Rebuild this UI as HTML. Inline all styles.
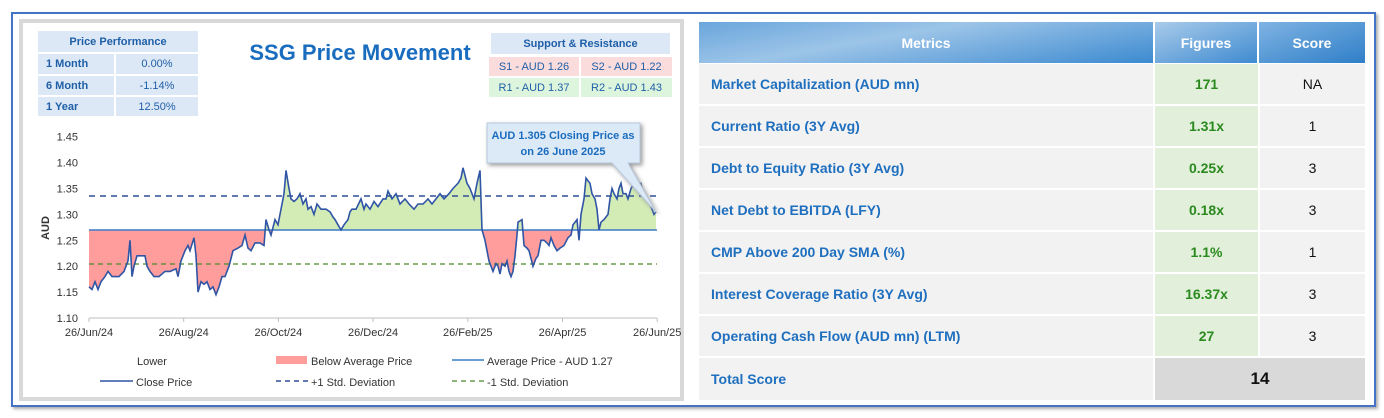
<!DOCTYPE html>
<html><head><meta charset="utf-8"><style>
*{margin:0;padding:0;box-sizing:border-box}
body{width:1384px;height:418px;background:#fff;font-family:"Liberation Sans",Calibri,sans-serif;position:relative;overflow:hidden}
.abs{position:absolute}
.cell{position:absolute;display:flex;align-items:center;font-size:11px;font-weight:bold;color:#1f5fa8}
table{border-collapse:collapse}
</style></head><body>
<div class="abs" style="left:11px;top:12px;width:1365px;height:395px;border:2px solid #4472c4;box-shadow:2px 2px 3px #aaa"></div>
<div class="abs" style="left:19px;top:19px;width:665px;height:382px;border:4px solid #d9d9d9;background:#fff"></div>

<!-- price performance -->
<div class="cell" style="left:38px;top:31px;width:160px;height:21px;background:#dce8f5;justify-content:center">Price Performance</div>
<div class="cell" style="left:38px;top:54px;width:76px;height:20px;background:#dce8f5;padding-left:8px">1 Month</div>
<div class="cell" style="left:116px;top:54px;width:82px;height:20px;background:#dce8f5;justify-content:center;font-weight:normal">0.00%</div>
<div class="cell" style="left:38px;top:76px;width:76px;height:19px;background:#dce8f5;padding-left:8px">6 Month</div>
<div class="cell" style="left:116px;top:76px;width:82px;height:19px;background:#dce8f5;justify-content:center;font-weight:normal">-1.14%</div>
<div class="cell" style="left:38px;top:97px;width:76px;height:19px;background:#dce8f5;padding-left:8px">1 Year</div>
<div class="cell" style="left:116px;top:97px;width:82px;height:19px;background:#dce8f5;justify-content:center;font-weight:normal">12.50%</div>

<div class="abs" style="left:230px;top:40px;width:260px;text-align:center;font-size:22px;font-weight:bold;color:#1a6cbf">SSG Price Movement</div>

<div class="cell" style="left:491px;top:33px;width:179px;height:21px;background:#dce8f5;justify-content:center">Support &amp; Resistance</div>
<div class="cell" style="left:489px;top:57px;width:90px;height:19px;background:#fadcdc;justify-content:center;font-weight:normal">S1 - AUD 1.26</div>
<div class="cell" style="left:581px;top:57px;width:91px;height:19px;background:#fadcdc;justify-content:center;font-weight:normal">S2 - AUD 1.22</div>
<div class="cell" style="left:489px;top:78px;width:90px;height:19px;background:#ddf5dd;justify-content:center;font-weight:normal">R1 - AUD 1.37</div>
<div class="cell" style="left:581px;top:78px;width:91px;height:19px;background:#ddf5dd;justify-content:center;font-weight:normal">R2 - AUD 1.43</div>

<svg class="abs" style="left:0;top:0" width="690" height="418" id="ch">
<defs>
<clipPath id="ab"><rect x="0" y="0" width="690" height="230"/></clipPath>
<clipPath id="be"><rect x="0" y="230" width="690" height="200"/></clipPath>
</defs>
<g font-size="11" fill="#333" text-anchor="end" id="yl"></g>
<text x="0" y="0" transform="translate(49,228) rotate(-90)" text-anchor="middle" font-size="11" font-weight="bold" fill="#333">AUD</text>
<path id="fg" fill="#d3ebb5" clip-path="url(#ab)"/>
<path id="fr" fill="#ff9c9c" clip-path="url(#be)"/>
<line x1="89" x2="657" y1="318" y2="318" stroke="#bfbfbf"/>
<g id="xt" stroke="#bfbfbf"></g>
<g font-size="11" fill="#333" text-anchor="middle" id="xl"></g>
<line x1="89" x2="657" y1="230" y2="230" stroke="#3a7cc8" stroke-width="1.5"/>
<line x1="89" x2="657" y1="196" y2="196" stroke="#2f4f96" stroke-width="1.5" stroke-dasharray="6,5"/>
<line x1="89" x2="657" y1="264" y2="264" stroke="#4a8a2a" stroke-width="1.3" stroke-dasharray="5,4"/>
<path id="ln" fill="none" stroke="#2f55a4" stroke-width="1.6"/>
<path d="M497 123 H640 V163 H628 L656 212 L612 163 H487 V123 Z" fill="#dce9f6" stroke="#b8c9dc" style="filter:drop-shadow(2px 2px 2px #999)"/>
<text x="563" y="139" text-anchor="middle" font-size="11" font-weight="bold" fill="#1a6cbf">AUD 1.305 Closing Price as</text>
<text x="563" y="155" text-anchor="middle" font-size="11" font-weight="bold" fill="#1a6cbf">on 26 June 2025</text>
<g font-size="11" fill="#333">
<text x="137" y="365">Lower</text>
<rect x="276" y="356" width="31" height="8" fill="#ff9c9c"/>
<text x="311" y="365">Below Average Price</text>
<line x1="452" x2="484" y1="360" y2="360" stroke="#3a7cc8" stroke-width="1.5"/>
<text x="487" y="365">Average Price - AUD 1.27</text>
<line x1="100" x2="133" y1="381" y2="381" stroke="#2f55a4" stroke-width="1.6"/>
<text x="136" y="386">Close Price</text>
<line x1="276" x2="308" y1="381" y2="381" stroke="#2f4f96" stroke-width="1.5" stroke-dasharray="5,4"/>
<text x="311" y="386">+1 Std. Deviation</text>
<line x1="452" x2="484" y1="381" y2="381" stroke="#4a8a2a" stroke-width="1.3" stroke-dasharray="5,4"/>
<text x="487" y="386">-1 Std. Deviation</text>
</g>
</svg>

<!-- right table -->
<div class="abs" style="left:699px;top:22px;width:666px;height:378px;background:#fff">
<table style="width:666px;font-size:14px;font-weight:bold">
<tr style="height:42px;color:#fff">
<td style="width:455px;text-align:center;background:linear-gradient(170deg,#6aa6dc 0%,#9cc4e8 40%,#3c8ad0 100%);border-right:2px solid #fff;border-bottom:2px solid #fff">Metrics</td>
<td style="width:104px;text-align:center;background:linear-gradient(160deg,#a9cbeb 0%,#3f8bd0 100%);border-right:2px solid #fff;border-bottom:2px solid #fff">Figures</td>
<td style="text-align:center;background:linear-gradient(160deg,#7fb3e3 0%,#2f7fc8 100%);border-bottom:2px solid #fff">Score</td></tr>
</table>
<div id="rows"></div>
</div>
<script>
var rows=[["Market Capitalization (AUD mn)","171","NA"],["Current Ratio (3Y Avg)","1.31x","1"],["Debt to Equity Ratio (3Y Avg)","0.25x","3"],["Net Debt to EBITDA (LFY)","0.18x","3"],["CMP Above 200 Day SMA (%)","1.1%","1"],["Interest Coverage Ratio (3Y Avg)","16.37x","3"],["Operating Cash Flow (AUD mn) (LTM)","27","3"]];
var h='';
rows.forEach(function(r,i){var t=42+i*42;
h+='<div class="cell" style="left:0;top:'+t+'px;width:454px;height:40px;background:#f2f2f2;padding-left:12px;font-size:14px;color:#1f6fbf">'+r[0]+'</div>';
h+='<div class="cell" style="left:456px;top:'+t+'px;width:103px;height:40px;background:#e2efda;justify-content:center;font-size:14px;color:#2a8a1e">'+r[1]+'</div>';
h+='<div class="cell" style="left:561px;top:'+t+'px;width:105px;height:40px;background:#f2f2f2;justify-content:center;font-size:14px;font-weight:normal;color:#111">'+r[2]+'</div>';});
h+='<div class="cell" style="left:0;top:336px;width:454px;height:42px;background:#f2f2f2;padding-left:12px;font-size:14px;color:#1f6fbf">Total Score</div>';
h+='<div class="cell" style="left:456px;top:336px;width:210px;height:42px;background:#d9d9d9;justify-content:center;font-size:17px;color:#111">14</div>';
document.getElementById('rows').innerHTML=h;

function Y(p){return 318-(p-1.10)/0.05*25.9;}
var yl='';for(var i=0;i<=7;i++){var p=1.10+i*0.05;yl+='<text x="78" y="'+(Y(p)+4)+'">'+p.toFixed(2)+'</text>';}
document.getElementById('yl').innerHTML=yl;
var xs=['26/Jun/24','26/Aug/24','26/Oct/24','26/Dec/24','26/Feb/25','26/Apr/25','26/Jun/25'];var xl='',xt='';
xs.forEach(function(s,i){var x=89+i*94.7;xl+='<text x="'+x+'" y="336">'+s+'</text>';xt+='<line x1="'+x+'" x2="'+x+'" y1="318" y2="322"/>';});
document.getElementById('xl').innerHTML=xl;document.getElementById('xt').innerHTML=xt;
var k=[[89,1.16],[92,1.155],[95,1.17],[98,1.155],[101,1.17],[105,1.18],[108,1.19],[112,1.18],[119,1.18],[124,1.19],[128,1.21],[130,1.25],[132,1.18],[134,1.2],[137,1.22],[145,1.22],[147,1.2],[150,1.19],[154,1.18],[159,1.18],[165,1.19],[170,1.19],[176,1.195],[178,1.18],[181,1.21],[185,1.23],[188,1.24],[190,1.23],[194,1.255],[196,1.22],[198,1.15],[201,1.17],[204,1.165],[207,1.17],[210,1.155],[213,1.16],[216,1.145],[219,1.16],[222,1.18],[225,1.18],[229,1.2],[233,1.23],[238,1.235],[242,1.24],[245,1.26],[248,1.235],[251,1.23],[255,1.245],[260,1.245],[264,1.24],[266,1.29],[269,1.27],[271,1.26],[273,1.275],[275,1.29],[278,1.28],[282,1.32],[284,1.34],[286,1.385],[289,1.35],[291,1.33],[294,1.325],[297,1.33],[300,1.34],[303,1.32],[306,1.33],[308,1.31],[311,1.315],[314,1.30],[317,1.32],[321,1.31],[326,1.31],[330,1.305],[333,1.295],[335,1.29],[338,1.28],[341,1.27],[344,1.28],[348,1.29],[350,1.305],[352,1.31],[356,1.31],[361,1.33],[364,1.31],[366,1.32],[370,1.31],[374,1.325],[378,1.315],[383,1.33],[386,1.33],[388,1.345],[392,1.33],[396,1.34],[400,1.32],[405,1.33],[409,1.32],[414,1.31],[418,1.32],[423,1.32],[428,1.33],[432,1.32],[436,1.33],[440,1.34],[444,1.33],[449,1.34],[453,1.35],[458,1.36],[461,1.37],[463,1.39],[465,1.375],[467,1.36],[470,1.35],[474,1.33],[477,1.36],[480,1.385],[482,1.27],[485,1.25],[487,1.23],[489,1.21],[491,1.2],[493,1.19],[496,1.205],[498,1.2],[500,1.185],[502,1.205],[505,1.2],[507,1.21],[509,1.19],[511,1.18],[513,1.19],[515,1.22],[517,1.26],[518,1.285],[522,1.29],[524,1.24],[527,1.235],[529,1.23],[531,1.215],[533,1.2],[536,1.215],[538,1.22],[541,1.25],[544,1.25],[547,1.245],[549,1.24],[551,1.255],[554,1.24],[557,1.23],[560,1.235],[564,1.24],[568,1.255],[571,1.26],[573,1.28],[575,1.285],[577,1.29],[579,1.25],[581,1.30],[584,1.33],[586,1.37],[588,1.365],[590,1.36],[592,1.34],[595,1.33],[597,1.31],[599,1.27],[601,1.285],[604,1.29],[606,1.295],[608,1.30],[610,1.33],[612,1.35],[614,1.34],[617,1.33],[619,1.35],[621,1.36],[623,1.34],[626,1.34],[628,1.33],[631,1.35],[634,1.36],[638,1.36],[641,1.36],[643,1.34],[645,1.33],[648,1.325],[650,1.32],[652,1.31],[654,1.30],[656,1.305]];
var d='';k.forEach(function(q,i){d+=(i?'L':'M')+q[0]+' '+Y(q[1]).toFixed(1);});
document.getElementById('ln').setAttribute('d',d);
var f=d+'L656 230L89 230Z';
document.getElementById('fg').setAttribute('d',f);document.getElementById('fr').setAttribute('d',f);
</script>
</body></html>
